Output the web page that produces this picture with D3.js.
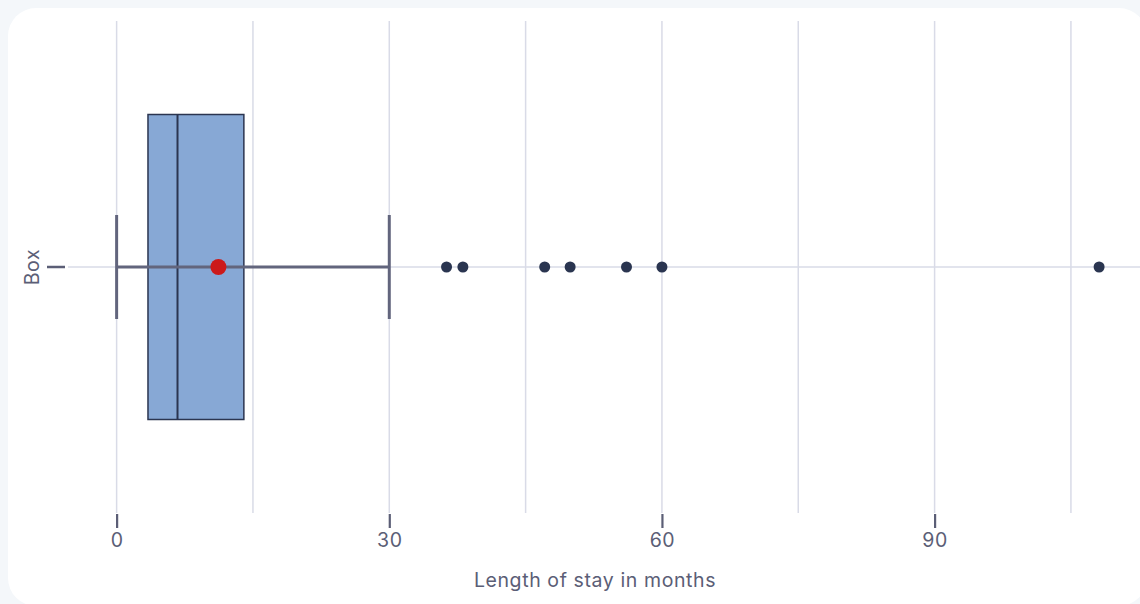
<!DOCTYPE html>
<html>
<head>
<meta charset="utf-8">
<script src="https://cdn.jsdelivr.net/npm/d3@7"></script>
<style>
  body { margin: 0; background: #f4f7fa; }
  svg { display: block; font-family: Inter, "Noto Sans", sans-serif; letter-spacing: 0.6px; }
</style>
</head>
<body>
<div id="chart"></div>
<script>
// données
const categories = ["Box"];
const lowerWhisker = [0];
const q1 = [3.45];
const median = [6.7];
const q3 = [14.0];
const upperWhisker = [30];
const mean = [11.2];
const outliers = [36.3, 38.1, 47.1, 49.9, 56.1, 60.0, 108.1];
const tickValues = [0, 30, 60, 90];
const gridValues = [0, 15, 30, 45, 60, 75, 90, 105];

const W = 1140, H = 604;
const plot = { left: 68, right: 1140, top: 21, bottom: 513 };
const textColor = "#5b5e76";
const gridColor = "#d9dbe7";
const fontSize = "19.5px";

const svg = d3.select("#chart").append("svg")
    .attr("width", W)
    .attr("height", H);

// carte blanche
svg.append("rect")
    .attr("x", 8).attr("y", 8)
    .attr("width", 1139).attr("height", 598)
    .attr("rx", 28)
    .attr("fill", "#ffffff");

const x = d3.scaleLinear()
    .domain([-5.35, 112.6])
    .range([plot.left, plot.right]);

const y = d3.scaleBand()
    .domain(categories)
    .range([plot.top, plot.bottom]);

const cy = d => y(d) + y.bandwidth() / 2;

// grille verticale
svg.append("g")
    .selectAll("line")
    .data(gridValues)
    .join("line")
    .attr("x1", d => x(d)).attr("x2", d => x(d))
    .attr("y1", plot.top).attr("y2", plot.bottom)
    .attr("stroke", gridColor)
    .attr("stroke-width", 1.5);

// grille horizontale
svg.append("g")
    .selectAll("line")
    .data(categories)
    .join("line")
    .attr("x1", plot.left).attr("x2", plot.right)
    .attr("y1", d => cy(d)).attr("y2", d => cy(d))
    .attr("stroke", gridColor)
    .attr("stroke-width", 1.5);

// axe X
const xAxis = svg.append("g")
    .attr("transform", `translate(0, ${plot.bottom + 1})`)
    .call(d3.axisBottom(x).tickValues(tickValues).tickSize(14).tickPadding(5));
xAxis.select(".domain").remove();
xAxis.selectAll(".tick line").attr("stroke", textColor).attr("stroke-width", 2.2);
xAxis.selectAll(".tick text")
    .attr("fill", textColor)
    .style("font-size", fontSize)
    .style("font-family", "Inter, 'Noto Sans', sans-serif");

svg.append("text")
    .attr("x", 595)
    .attr("y", 587)
    .attr("text-anchor", "middle")
    .attr("fill", textColor)
    .style("font-size", fontSize)
    .text("Length of stay in months");

// axe Y
const yAxis = svg.append("g")
    .attr("transform", `translate(${plot.left - 3}, 0)`)
    .call(d3.axisLeft(y).tickSize(18).tickFormat(""));
yAxis.select(".domain").remove();
yAxis.selectAll(".tick line").attr("stroke", textColor).attr("stroke-width", 2.5);

svg.selectAll("ylabel")
    .data(categories)
    .join("text")
    .attr("transform", d => `translate(39, ${cy(d)}) rotate(-90)`)
    .attr("text-anchor", "middle")
    .attr("fill", textColor)
    .style("font-size", fontSize)
    .text(d => d);

// boîte
const boxH = 305, capH = 104;
const g = svg.append("g");
categories.forEach((c, i) => {
    const yc = cy(c);
    g.append("rect")
        .attr("x", x(q1[i]))
        .attr("y", yc - boxH / 2)
        .attr("width", x(q3[i]) - x(q1[i]))
        .attr("height", boxH)
        .attr("fill", "#87a8d5")
        .attr("stroke", "#2b3550")
        .attr("stroke-width", 1.5);
    g.append("line")
        .attr("x1", x(median[i])).attr("x2", x(median[i]))
        .attr("y1", yc - boxH / 2).attr("y2", yc + boxH / 2)
        .attr("stroke", "#2b3550")
        .attr("stroke-width", 2);
    // moustaches
    g.append("line")
        .attr("x1", x(lowerWhisker[i])).attr("x2", x(upperWhisker[i]))
        .attr("y1", yc).attr("y2", yc)
        .attr("stroke", "#62657d")
        .attr("stroke-width", 3);
    [lowerWhisker[i], upperWhisker[i]].forEach(v => {
        g.append("line")
            .attr("x1", x(v)).attr("x2", x(v))
            .attr("y1", yc - capH / 2).attr("y2", yc + capH / 2)
            .attr("stroke", "#62657d")
            .attr("stroke-width", 3);
    });
    // valeurs aberrantes
    g.selectAll("outl")
        .data(outliers)
        .join("circle")
        .attr("cx", d => x(d))
        .attr("cy", yc)
        .attr("r", 5.5)
        .attr("fill", "#2a3550");
    // moyenne
    g.append("circle")
        .attr("cx", x(mean[i]))
        .attr("cy", yc)
        .attr("r", 8)
        .attr("fill", "#cc1a1a");
});
</script>
</body>
</html>
